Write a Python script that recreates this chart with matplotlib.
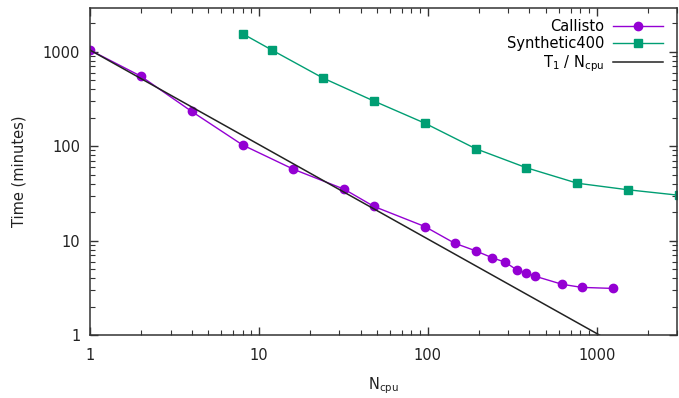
import numpy as np
import matplotlib
matplotlib.use("Agg")
import matplotlib.pyplot as plt
import matplotlib.ticker as ticker

# Callisto run times
callisto_ncpu = [1, 2, 4, 8, 16, 32, 48, 96, 144, 192, 240, 288, 336, 384, 432, 624, 816, 1248]
callisto_time = [1040, 550, 233, 103, 57, 35, 23, 14.1, 9.4, 7.8, 6.6, 5.9, 4.9, 4.55, 4.2, 3.45, 3.2, 3.12]

# Synthetic400 run times
synth_ncpu = [8, 12, 24, 48, 96, 192, 384, 768, 1536, 3072]
synth_time = [1550, 1035, 525, 300, 175, 94, 59, 40.5, 34.5, 30.2]

purple = '#9400d3'
green = '#009e73'
border = '#333333'

plt.rcParams['font.family'] = 'DejaVu Sans'
plt.rcParams['font.size'] = 10.5

fig = plt.figure(figsize=(6.79, 3.98), dpi=100)
ax = fig.add_axes([0.1325, 0.158, 0.865, 0.822])

ax.plot(callisto_ncpu, callisto_time, color=purple, lw=1.0, marker='o', ms=6,
        label='Callisto')
ax.plot(synth_ncpu, synth_time, color=green, lw=1.0, marker='s', ms=5.5,
        label='Synthetic400')

# ideal scaling from the single-core time
t1 = callisto_time[0]
ideal_x = np.array([1, 3000])
ax.plot(ideal_x, t1 / ideal_x, color='#222222', lw=1.1, label=r'T$_1$ / N$_{\mathrm{cpu}}$')

ax.set_xscale('log')
ax.set_yscale('log')
ax.set_xlim(1, 3000)
ax.set_ylim(1, 2900)

fmt = ticker.FuncFormatter(lambda v, _: f'{v:g}')
ax.xaxis.set_major_formatter(fmt)
ax.yaxis.set_major_formatter(fmt)
ax.xaxis.set_minor_formatter(ticker.NullFormatter())
ax.yaxis.set_minor_formatter(ticker.NullFormatter())
ax.xaxis.set_minor_locator(ticker.LogLocator(base=10, subs=np.arange(2, 10)))
ax.yaxis.set_minor_locator(ticker.LogLocator(base=10, subs=np.arange(2, 10)))

ax.tick_params(which='both', direction='in', top=True, right=True, color=border,
               labelcolor='#222222')
ax.tick_params(which='major', length=6, width=1, pad=7)
ax.tick_params(axis='x', which='major', pad=9)
ax.tick_params(which='minor', length=3.5, width=0.8)
for s in ax.spines.values():
    s.set_color(border)
    s.set_linewidth(1.1)

ax.set_xlabel(r'N$_{\mathrm{cpu}}$', labelpad=9, color='#222222')
ax.set_ylabel('Time (minutes)', labelpad=12, color='#222222')

ax.legend(loc='upper right', bbox_to_anchor=(0.985, 0.985), frameon=False,
          markerfirst=False, handlelength=3.4, labelspacing=0.15,
          borderaxespad=0, handletextpad=0.6)
for t in ax.get_legend().get_texts():
    t.set_ha('right')

fig.savefig('out.png', dpi=100)
